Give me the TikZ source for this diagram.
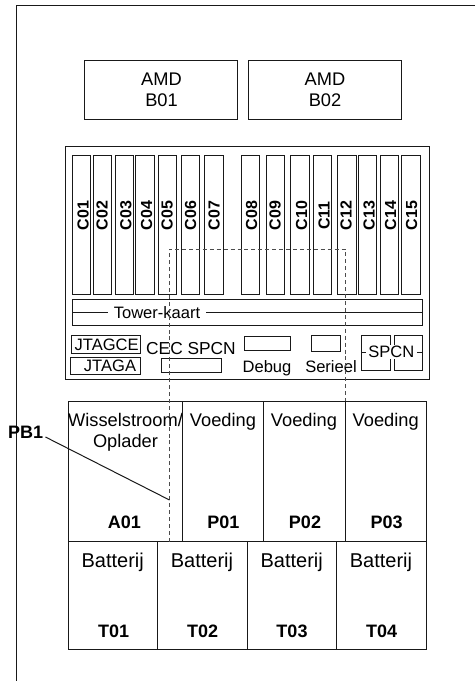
\documentclass[tikz,border=0pt]{standalone}
\usepackage{fontspec}
\setmainfont{Liberation Sans}
\tikzset{
    part/.style={draw=black!90, line width=0.75pt},
    partlbl/.style={font=\fontsize{13.7}{16}\selectfont, align=center, inner sep=0pt},
    smalllbl/.style={font=\fontsize{12.4}{15}\selectfont, inner sep=0pt},
    idlbl/.style={font=\fontsize{13.5}{16}\selectfont\bfseries, inner sep=0pt},
    slotlbl/.style={font=\fontsize{12}{14}\selectfont\bfseries, rotate=90, inner sep=0pt},
    cable/.style={draw=black!70, line width=0.7pt, dash pattern=on 3pt off 2.2pt}
}
\begin{document}
\begin{tikzpicture}[x=0.75pt, y=-0.75pt]
    \useasboundingbox (0,0) rectangle (475,681);

    % Frame
    \draw[part] (475,5.5) -- (16,5.5) -- (16,681);

    % AMD
    \draw[part] (84,60.5) rectangle (237,120);
    \draw[part] (248,60.5) rectangle (401,120);
    \node[partlbl] (B01) at (161.5,90) {AMD\\B01};
    \node[partlbl] (B02) at (325,90) {AMD\\B02};

    % Board
    \draw[part] (65,147) rectangle (429,379);
    \foreach \name/\xa/\xb/\xt in {C01/72/90.7/83, C02/93.5/111/102, C03/115.5/133.7/126,
        C04/135.5/154/146.7, C05/158/176.5/167, C06/181/199.5/190.7, C07/204/223/214,
        C08/241.7/259.3/251.7, C09/266/284.3/275, C10/290.5/309.5/301.7, C11/313.5/331.5/324,
        C12/337/356/346, C13/358.5/376.5/369, C14/380/398/390.7, C15/401.5/420/411.7} {
        \draw[part] (\xa,156) rectangle (\xb,294);
        \node[slotlbl] (\name) at (\xt,215.5) {\name};
    }

    % Tower card
    \draw[part] (72.5,299.5) rectangle (422.7,325);
    \draw[part] (72.5,312.5) -- (422.7,312.5);
    \node[smalllbl, fill=white, inner xsep=4pt, inner ysep=1pt] (tower) at (157,312.5) {Tower-kaart};

    % Connectors
    \draw[part] (71.5,335.5) rectangle (140.5,353);
    \draw[part] (70.5,357) rectangle (140.5,374.5);
    \node[smalllbl] (jtagce) at (106.7,345) {JTAGCE};
    \node[smalllbl] (jtaga) at (110,365.7) {JTAGA};
    \node[smalllbl, font=\fontsize{13}{15}\selectfont] (cecspcn) at (191,349) {CEC SPCN};
    \draw[part] (161,358) rectangle (221.5,372);
    \draw[part] (244,336) rectangle (290,350);
    \node[smalllbl] (debug) at (267,368.5) {Debug};
    \draw[part] (311.5,335) rectangle (340.5,351);
    \node[smalllbl] (serieel) at (331,367) {Serieel};
    \draw[part] (361,335) rectangle (390,370);
    \draw[part] (394,335) rectangle (422.7,370);
    \draw[part] (361,352) -- (422.7,352);
    \node[smalllbl, fill=white, inner xsep=2pt, inner ysep=1pt] (spcn) at (391.3,352) {SPCN};

    % Power bays
    \foreach \name/\xa/\xb/\xt/\xl/\title in {A01/68.5/182.5/124.3/125.5/{Wisselstroom/\\Oplader},
        P01/182.5/263.7/223.3/223/Voeding, P02/263.7/345/305/304/Voeding, P03/345/426.5/386.7/385.7/Voeding} {
        \draw[part] (\xa,401) rectangle (\xb,541.5);
        \node[idlbl] (\name) at (\xt,522.7) {\name};
        \node[partlbl, anchor=north] (title\name) at (\xl,413) {\title};
    }

    % Batteries
    \foreach \name/\xa/\xb/\xt/\xl in {T01/68/157.5/113.7/112.7, T02/157.5/247/202.7/202,
        T03/247/336.5/292/291.7, T04/336.5/426.5/381.7/381} {
        \draw[part] (\xa,541.5) rectangle (\xb,649.5);
        \node[idlbl] (\name) at (\xt,631.7) {\name};
        \node[partlbl, font=\fontsize{15}{18}\selectfont] (title\name) at (\xl,562) {Batterij};
    }

    % Cable
    \coordinate (cableA) at (169.5,541.5);
    \coordinate (cableB) at (169.5,249);
    \coordinate (cableC) at (345,249);
    \coordinate (cableD) at (345,401);
    \draw[cable] (cableA) -- (cableB) -- (cableC) -- (cableD);

    % Leader
    \node[idlbl, inner sep=1.5pt] (PB1) at (25.7,432) {PB1};
    \coordinate (PB1end) at (169.5,500);
    \draw[part] (PB1.east) ++(0,5) -- (PB1end);
\end{tikzpicture}
\end{document}
